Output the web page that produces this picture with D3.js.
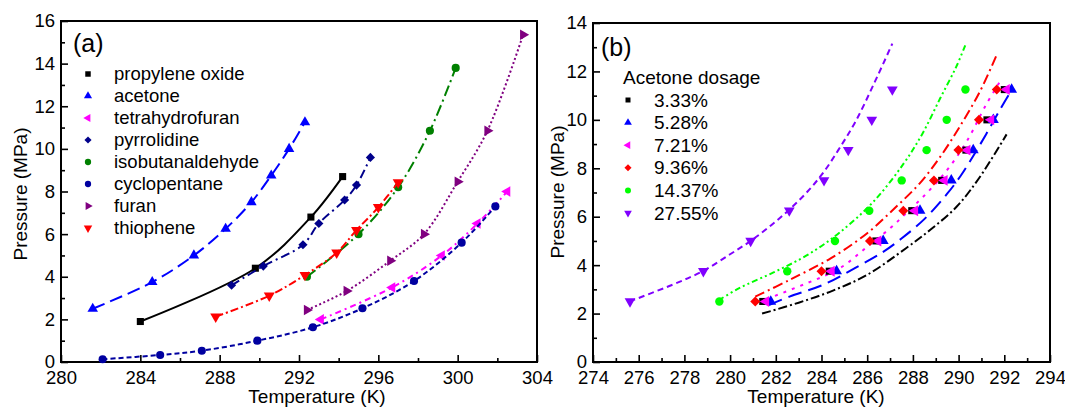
<!DOCTYPE html>
<html>
<head>
<meta charset="utf-8">
<script src="https://cdn.jsdelivr.net/npm/d3@7"></script>
<style>
  body { margin: 0; background: #fff; }
  svg { display: block; }
  text { font-family: "Liberation Sans", Arial, Helvetica, sans-serif; fill: #000; }
</style>
</head>
<body>
<svg id="chart" width="1065" height="408"></svg>
<script>
// ---------- Panel (a): vapour pressure of the pure guest compounds, [T (K), P (MPa)] ----------
const propyleneOxide = [[284.0, 1.9], [289.8, 4.4], [292.6, 6.8], [294.2, 8.7]];
const acetone = [[281.6, 2.5], [284.6, 3.75], [286.7, 5.0], [288.3, 6.25], [289.6, 7.5], [290.6, 8.75], [291.5, 10.0], [292.3, 11.25]];
const tetrahydrofuran = [[293.1, 2.0], [296.7, 3.5], [299.2, 5.0], [301.0, 6.5], [302.5, 8.0]];
const pyrrolidine = [[288.6, 3.6], [290.2, 4.5], [292.2, 5.5], [293.0, 6.5], [294.3, 7.6], [294.9, 8.3], [295.6, 9.6]];
const isobutanaldehyde = [[292.4, 4.0], [295.0, 6.0], [297.0, 8.2], [298.6, 10.85], [299.9, 13.8]];
const cyclopentane = [[282.1, 0.13], [285.0, 0.33], [287.1, 0.53], [289.9, 1.0], [292.7, 1.63], [295.2, 2.52], [297.8, 3.8], [300.2, 5.6], [301.9, 7.3]];
const furan = [[292.4, 2.44], [294.4, 3.33], [296.6, 4.75], [298.3, 6.0], [300.0, 8.46], [301.5, 10.85], [303.3, 15.35]];
const thiophene = [[287.8, 2.13], [290.5, 3.11], [292.3, 4.08], [293.9, 5.13], [294.9, 6.19], [296.0, 7.26], [297.0, 8.43]];

const tempTicksA = [280, 284, 288, 292, 296, 300, 304];
const tempMinorA = [282, 286, 290, 294, 298, 302];
const pressTicksA = [0, 2, 4, 6, 8, 10, 12, 14, 16];
const pressMinorA = [1, 3, 5, 7, 9, 11, 13, 15];

// ---------- Panel (b): acetone dosage series ----------
const dosageLabels = ["3.33%", "5.28%", "7.21%", "9.36%", "14.37%", "27.55%"];
const measuredPressure = [2.5, 3.75, 5.0, 6.25, 7.5, 8.75, 10.0, 11.25];
const tempDosage333 = [281.43, 284.34, 286.38, 287.95, 289.26, 290.32, 291.24, 292.0];
const tempDosage528 = [281.78, 284.66, 286.7, 288.31, 289.68, 290.64, 291.52, 292.32];
const tempDosage721 = [281.57, 284.44, 286.48, 288.09, 289.38, 290.38, 291.42, 292.1];
const tempDosage936 = [281.1, 284.0, 286.12, 287.58, 288.92, 289.99, 290.89, 291.67];
const tempDosage1437 = [279.53, 282.5, 284.59, 286.09, 287.51, 288.6, 289.48, 290.3];
const tempDosage2755 = [275.62, 278.83, 280.9, 282.59, 284.11, 285.17, 286.2, 287.1];

// predicted equilibrium curves, [T (K), P (MPa)]
const curve333 = [[281.4, 2.0], [283.0, 2.45], [284.5, 2.95], [286.0, 3.6], [287.7, 4.7], [288.75, 5.45], [289.9, 6.4], [290.9, 7.6], [292.1, 9.4]];
const curve528 = [[281.7, 2.35], [282.6, 2.7], [284.1, 3.2], [285.5, 3.9], [286.7, 4.55], [287.5, 5.1], [288.5, 5.9], [289.5, 6.95], [290.1, 7.7], [290.7, 8.6], [291.2, 9.4], [291.8, 10.4], [292.3, 11.2]];
const curve721 = [[281.6, 2.6], [283.35, 3.25], [284.8, 3.87], [286.0, 4.76], [287.0, 5.52], [287.7, 6.14], [288.6, 6.97], [289.5, 7.93], [290.35, 9.1], [291.2, 10.62], [291.9, 11.72]];
const curve936 = [[281.1, 2.7], [282.6, 3.39], [284.4, 4.28], [286.0, 5.32], [287.2, 6.35], [288.3, 7.38], [289.2, 8.48], [290.05, 9.72], [290.95, 11.2], [291.7, 12.76]];
const curve1437 = [[279.5, 2.55], [280.4, 3.05], [281.9, 3.7], [283.35, 4.4], [284.8, 5.35], [286.3, 6.65], [287.6, 8.2], [288.4, 9.4], [289.2, 10.9], [289.9, 12.2], [290.3, 13.1]];
const curve2755 = [[275.6, 2.5], [277.5, 3.2], [278.8, 3.75], [280.0, 4.45], [280.9, 5.0], [281.8, 5.65], [282.6, 6.3], [283.4, 7.05], [284.1, 7.85], [284.8, 8.85], [285.5, 9.95], [286.3, 11.5], [287.1, 13.15]];

const tempTicksB = [274, 276, 278, 280, 282, 284, 286, 288, 290, 292, 294];
const tempMinorB = [275, 277, 279, 281, 283, 285, 287, 289, 291, 293];
const pressTicksB = [0, 2, 4, 6, 8, 10, 12, 14];
const pressMinorB = [1, 3, 5, 7, 9, 11, 13];

// ---------- helpers ----------
const svg = d3.select("#chart");

const shapeTypes = {
  square: { type: d3.symbolSquare, rot: 0 },
  up: { type: d3.symbolTriangle, rot: 0 },
  right: { type: d3.symbolTriangle, rot: 90 },
  down: { type: d3.symbolTriangle, rot: 180 },
  left: { type: d3.symbolTriangle, rot: -90 },
  diamond: { type: d3.symbolSquare, rot: 45 },
  circle: { type: d3.symbolCircle, rot: 0 }
};

function drawMarker(g, shape, size, cx, cy, color) {
  const s = shapeTypes[shape];
  g.append("path")
    .attr("d", d3.symbol().type(s.type).size(size)())
    .attr("transform", `translate(${cx},${cy}) rotate(${s.rot})`)
    .attr("fill", color)
    .attr("stroke", "none");
}

function drawPanel(o) {
  const x = d3.scaleLinear().domain(o.xDomain).range([o.left, o.right]);
  const y = d3.scaleLinear().domain(o.yDomain).range([o.bottom, o.top]);
  const g = svg.append("g");

  const styleAxis = sel => {
    sel.select(".domain").remove();
    sel.attr("font-family", null).attr("font-size", null);
    sel.selectAll(".tick line").attr("stroke", "#000").attr("stroke-width", 1.6);
    sel.selectAll(".tick text").attr("font-size", 18.5).attr("fill", "#000");
  };

  g.append("g").attr("transform", `translate(0,${o.bottom})`)
    .call(d3.axisBottom(x).tickValues(o.xTicks).tickSizeInner(-7).tickSizeOuter(0).tickPadding(9).tickFormat(d3.format("d")))
    .call(styleAxis);
  g.append("g").attr("transform", `translate(0,${o.bottom})`)
    .call(d3.axisBottom(x).tickValues(o.xMinor).tickSizeInner(-4).tickSizeOuter(0).tickFormat(""))
    .call(styleAxis);
  g.append("g").attr("transform", `translate(${o.left},0)`)
    .call(d3.axisLeft(y).tickValues(o.yTicks).tickSizeInner(-7).tickSizeOuter(0).tickPadding(6).tickFormat(d3.format("d")))
    .call(styleAxis);
  g.append("g").attr("transform", `translate(${o.left},0)`)
    .call(d3.axisLeft(y).tickValues(o.yMinor).tickSizeInner(-4).tickSizeOuter(0).tickFormat(""))
    .call(styleAxis);

  g.append("rect")
    .attr("x", o.left).attr("y", o.top)
    .attr("width", o.right - o.left).attr("height", o.bottom - o.top)
    .attr("fill", "none").attr("stroke", "#000").attr("stroke-width", 2);

  g.append("text")
    .attr("x", o.xTitleX).attr("y", 403)
    .attr("text-anchor", "middle").attr("font-size", 19)
    .text("Temperature (K)");
  g.append("text")
    .attr("transform", `translate(${o.yTitleX},${o.yTitleY}) rotate(-90)`)
    .attr("text-anchor", "middle").attr("font-size", 19)
    .text("Pressure (MPa)");
  g.append("text")
    .attr("x", o.tagX).attr("y", o.tagY)
    .attr("font-size", 25)
    .text(o.tag);

  return { x, y, g };
}

const line = (x, y) => d3.line().x(d => x(d[0])).y(d => y(d[1])).curve(d3.curveCatmullRom.alpha(0.5));

// ---------- Panel (a) ----------
const A = drawPanel({
  left: 61, right: 537, top: 21, bottom: 362,
  xDomain: [280, 304], yDomain: [0, 16],
  xTicks: tempTicksA, xMinor: tempMinorA, yTicks: pressTicksA, yMinor: pressMinorA,
  xTitleX: 317, yTitleX: 27, yTitleY: 194, tag: "(a)", tagX: 73, tagY: 52
});

const seriesA = [
  { name: "propylene oxide", data: propyleneOxide, color: "#000000", shape: "square", size: 50, dash: null },
  { name: "acetone", data: acetone, color: "#0000FF", shape: "up", size: 48, dash: "13,6" },
  { name: "tetrahydrofuran", data: tetrahydrofuran, color: "#FF00FF", shape: "left", size: 48, dash: "6,4,2,4" },
  { name: "pyrrolidine", data: pyrrolidine, color: "#00008B", shape: "diamond", size: 42, dash: "9,4,2,4" },
  { name: "isobutanaldehyde", data: isobutanaldehyde, color: "#008000", shape: "circle", size: 52, dash: "11,4,2,4" },
  { name: "cyclopentane", data: cyclopentane, color: "#0000A0", shape: "circle", size: 52, dash: "5,3" },
  { name: "furan", data: furan, color: "#800080", shape: "right", size: 48, dash: "2,2.5" },
  { name: "thiophene", data: thiophene, color: "#FF0000", shape: "down", size: 52, dash: "8,3,2,3" }
];

seriesA.forEach(s => {
  A.g.append("path")
    .attr("d", line(A.x, A.y)(s.data))
    .attr("fill", "none").attr("stroke", s.color).attr("stroke-width", 2)
    .attr("stroke-dasharray", s.dash);
  s.data.forEach(d => drawMarker(A.g, s.shape, s.size, A.x(d[0]), A.y(d[1]), s.color));
});

// legend (a)
seriesA.forEach((s, i) => {
  const ly = 74 + i * 22;
  drawMarker(A.g, s.shape, s.size * 0.6, 88, ly, s.color);
  A.g.append("text").attr("x", 114).attr("y", ly).attr("dy", "0.35em")
    .attr("font-size", 18.5).text(s.name);
});

// ---------- Panel (b) ----------
const B = drawPanel({
  left: 593, right: 1050, top: 23, bottom: 362,
  xDomain: [274, 294], yDomain: [0, 14],
  xTicks: tempTicksB, xMinor: tempMinorB, yTicks: pressTicksB, yMinor: pressMinorB,
  xTitleX: 816, yTitleX: 564, yTitleY: 192, tag: "(b)", tagX: 601, tagY: 56
});

const seriesB = [
  { temps: tempDosage333, curve: curve333, color: "#000000", shape: "square", size: 50, dash: "9,3,2,3" },
  { temps: tempDosage528, curve: curve528, color: "#0000FF", shape: "up", size: 52, dash: "14,7" },
  { temps: tempDosage721, curve: curve721, color: "#FF00FF", shape: "left", size: 52, dash: "3,6" },
  { temps: tempDosage936, curve: curve936, color: "#FF0000", shape: "diamond", size: 50, dash: "10,4,2,4" },
  { temps: tempDosage1437, curve: curve1437, color: "#00FF00", shape: "circle", size: 56, dash: "6,3,2,3,2,3" },
  { temps: tempDosage2755, curve: curve2755, color: "#8000FF", shape: "down", size: 50, dash: "6,4" }
];

seriesB.forEach(s => {
  B.g.append("path")
    .attr("d", line(B.x, B.y)(s.curve))
    .attr("fill", "none").attr("stroke", s.color).attr("stroke-width", 2)
    .attr("stroke-dasharray", s.dash);
});
seriesB.forEach(s => {
  s.temps.forEach((t, j) => drawMarker(B.g, s.shape, s.size, B.x(t), B.y(measuredPressure[j]), s.color));
});

// legend (b)
B.g.append("text").attr("x", 623).attr("y", 77).attr("dy", "0.35em")
  .attr("font-size", 19).text("Acetone dosage");
seriesB.forEach((s, i) => {
  const ly = 100 + i * 22.6;
  drawMarker(B.g, s.shape, s.size * 0.5, 628, ly, s.color);
  B.g.append("text").attr("x", 654).attr("y", ly).attr("dy", "0.35em")
    .attr("font-size", 19).text(dosageLabels[i]);
});
</script>
</body>
</html>
